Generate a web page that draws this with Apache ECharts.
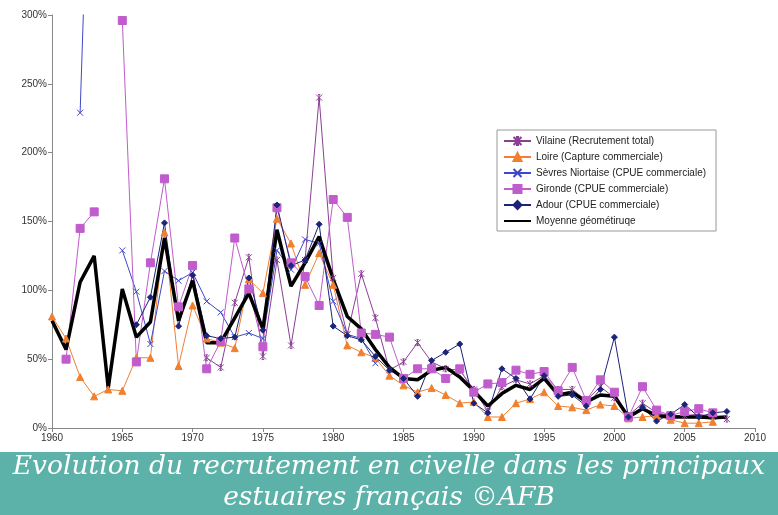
<!DOCTYPE html>
<html>
<head>
<meta charset="utf-8">
<script src="https://cdn.jsdelivr.net/npm/echarts@6/dist/echarts.min.js"></script>
<style>html,body{margin:0;padding:0;background:#fff}#c{width:778px;height:515px}</style>
</head>
<body>
<div id="c"></div>
<script>
// Years 1960..2008
const years = [];
for (let y = 1960; y <= 2008; y++) years.push(y);

const xTicks = [1960, 1965, 1970, 1975, 1980, 1985, 1990, 1995, 2000, 2005, 2010];
const yTicks = [0, 50, 100, 150, 200, 250, 300];

const seriesNames = [
  'Vilaine (Recrutement total)',
  'Loire (Capture commerciale)',
  'Sèvres Niortaise (CPUE commerciale)',
  'Gironde (CPUE commerciale)',
  'Adour (CPUE commerciale)',
  'Moyenne géométiruqe'
];

//            1960 61   62   63   64   65   66   67   68   69   70   71   72   73   74   75   76   77   78   79   80   81   82   83   84   85   86   87   88   89   90   91   92   93   94   95   96   97   98   99   2000 01  02  03  04   05   06   07   08
const vilaine = [null,null,null,null,null,null,null,null,null,null,null,51, 44,  91,  124, 52,  122, 60,  122, 240, 109, 68,  112, 80,  42,  48,  62,  48,  43,  42,  28,  12,  30,  35,  32,  38,  28,  28,  20,  30,  22,  9,  18, 11, 9,   9,   10,  8,   6.5];
const loire   = [81,  65,  37,  23,  28,  27,  51,  51,  142, 45,  89,  65,  62,  58,  108, 98,  152, 134, 104, 127, 104, 60,  55,  51,  38,  31,  26,  29,  24,  18,  19,  8,   8,   18,  21,  26,  16,  15,  13,  17,  16,  7,  8,  9,  6,   3.5, 3.5, 4.5, null];
const sevres  = [null,null,229, 540, null,129, 99,  61,  114, 107, 113, 92,  84,  66,  69,  65,  129, 115, 137, 134, 92,  68,  65,  47,  null,null,null,null,null,null,null,null,null,null,null,null,null,null,null,null,null,null,null,null,null,null,null,null,null];
const gironde = [null,50,  145, 157, null,296, 48,  120, 181, 88,  118, 43,  63,  138, 101, 59,  160, 120, 110, 89,  166, 153, 69,  68,  66,  36,  43,  43,  36,  43,  26,  32,  33,  42,  39,  41,  27,  44,  20,  35,  26,  8,  30, 13, 9,   12,  14,  11,  null];
const adour   = [null,null,null,null,null,null,75,  95,  149, 74,  111, 67,  65,  66,  109, 71,  162, 118, 122, 148, 74,  67,  64,  52,  42,  36,  23,  49,  55,  61,  18,  11,  43,  36,  21,  38,  23,  24,  16,  28,  66,  8,  15, 5,  10,  17,  8,   11,  12];
const moyenne = [78,  57,  106, 125, 29,  101, 66,  77,  138, 78,  107, 62,  62,  80,  98,  72,  144, 103, 120, 139, 108, 81,  72,  57,  44,  36,  35,  42,  44,  37,  27,  16,  25,  31,  28,  36,  24,  26,  19,  24,  23,  8,  14, 9,  8,   8,   8,   7.5, 8];

function pairs(arr) { return years.map((y, i) => [y, arr[i]]); }

const chart = echarts.init(document.getElementById('c'), null, {renderer: 'canvas'});

const asterisk = 'path://M0,0L10,10M10,0L0,10M5,0L5,10M3,0L7,0M3,10L7,10';
const xmark = 'path://M0,0L10,10M10,0L0,10';

function lineSeries(name, data, color, symbol, size, extra) {
  return Object.assign({
    name: name,
    type: 'line',
    data: pairs(data),
    symbol: symbol,
    symbolSize: size,
    showSymbol: true,
    connectNulls: false,
    lineStyle: {color: color, width: 1},
    itemStyle: {color: color, borderColor: color, borderWidth: 1},
    emphasis: {disabled: true},
    animation: false,
    clip: true
  }, extra || {});
}

const option = {
  animation: false,
  backgroundColor: '#ffffff',
  grid: {left: 52, right: 23, top: 15, bottom: 87, containLabel: false},
  xAxis: {
    type: 'value', min: xTicks[0], max: xTicks[xTicks.length - 1], interval: 5,
    axisLine: {show: true, lineStyle: {color: '#888', width: 1}},
    axisTick: {show: true, length: 4, lineStyle: {color: '#888'}},
    axisLabel: {color: '#333', fontSize: 10, fontFamily: 'Liberation Sans, Arial', margin: 5, formatter: function (v) { return String(v); }},
    splitLine: {show: false}
  },
  yAxis: {
    type: 'value', min: yTicks[0], max: yTicks[yTicks.length - 1], interval: 50,
    axisLine: {show: true, lineStyle: {color: '#888', width: 1}},
    axisTick: {show: true, length: 4, lineStyle: {color: '#888'}},
    axisLabel: {color: '#333', fontSize: 10, fontFamily: 'Liberation Sans, Arial', margin: 5, formatter: '{value}%'},
    splitLine: {show: false}
  },
  legend: {
    orient: 'vertical',
    left: 497, top: 130,
    width: 220,
    padding: [6, 10, 5, 6],
    itemGap: 6,
    itemWidth: 27,
    itemHeight: 10,
    backgroundColor: '#fff',
    borderColor: '#999',
    borderWidth: 1,
    textStyle: {fontSize: 10, color: '#222', fontFamily: 'Liberation Sans, Arial'},
    data: seriesNames.slice(0, 5).concat([{name: seriesNames[5], itemStyle: {opacity: 0}}])
  },
  series: [
    lineSeries(seriesNames[0], vilaine, '#8a3f94', asterisk, 6),
    lineSeries(seriesNames[1], loire, '#f08030', 'triangle', 7),
    lineSeries(seriesNames[2], sevres, '#3f48c8', xmark, 6),
    lineSeries(seriesNames[3], gironde, '#c05ccc', 'rect', 8),
    lineSeries(seriesNames[4], adour, '#1c2478', 'diamond', 6),
    lineSeries(seriesNames[5], moyenne, '#000000', 'none', 0, {lineStyle: {color: '#000', width: 3.5}, itemStyle: {color: '#000'}})
  ],
  graphic: [
    {type: 'rect', left: 0, top: 452, shape: {width: 778, height: 63}, style: {fill: '#5cb2a9'}, silent: true},
    {type: 'text', x: 389, y: 467, style: {text: 'Evolution du recrutement en civelle dans les principaux', fill: '#ffffff', font: 'italic 26.5px "DejaVu Serif"', textAlign: 'center', textVerticalAlign: 'middle'}, silent: true},
    {type: 'text', x: 389, y: 498, style: {text: 'estuaires français ©AFB', fill: '#ffffff', font: 'italic 26.5px "DejaVu Serif"', textAlign: 'center', textVerticalAlign: 'middle'}, silent: true}
  ]
};
chart.setOption(option);
</script>
</body>
</html>
